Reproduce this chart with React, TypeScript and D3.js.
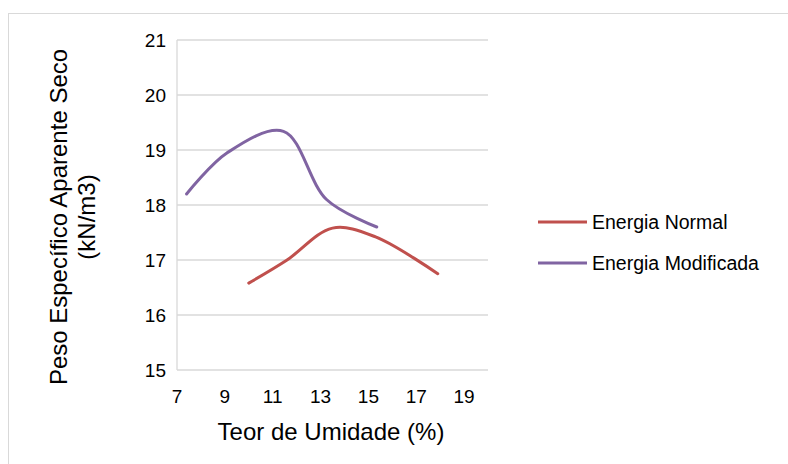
import React from "react";
import * as d3 from "d3";

const xTicks = [7, 9, 11, 13, 15, 17, 19];
const yTicks = [15, 16, 17, 18, 19, 20, 21];
const seriesNames = ["Energia Normal", "Energia Modificada"];
const normalX = [10.0, 11.6, 13.5, 15.3, 17.9];
const normalY = [16.58, 17.0, 17.58, 17.42, 16.75];
const modX = [7.4, 9.1, 11.45, 13.25, 15.35];
const modY = [18.2, 18.95, 19.34, 18.1, 17.6];
const colors = ["#C0504D", "#8064A2"];
const xTitle = "Teor de Umidade (%)";
const yTitle1 = "Peso Específico Aparente Seco";
const yTitle2 = "(kN/m3)";

export default function App() {
  const W = 788, H = 464;
  const x = d3.scaleLinear().domain([7, 20]).range([177, 488]);
  const y = d3.scaleLinear().domain([15, 21]).range([370, 40]);
  const line = d3
    .line<[number, number]>()
    .x((d) => x(d[0]))
    .y((d) => y(d[1]))
    .curve(d3.curveCatmullRom.alpha(0.5));
  const series = [
    normalX.map((v, i) => [v, normalY[i]] as [number, number]),
    modX.map((v, i) => [v, modY[i]] as [number, number]),
  ];
  const font = "Liberation Sans, Arial, sans-serif";
  return (
    <svg
      width={W}
      height={H}
      style={{ position: "absolute", left: 0, top: 0, background: "#fff" }}
      fontFamily={font}
    >
      <rect x={8.5} y={13.5} width={W + 10} height={H + 10} fill="#fff" stroke="#D9D9D9" />
      {yTicks.map((t) => (
        <line key={t} x1={x(7)} x2={x(20)} y1={y(t)} y2={y(t)} stroke="#D9D9D9" strokeWidth={1.3} />
      ))}
      <line x1={x(7)} x2={x(7)} y1={y(21)} y2={y(15)} stroke="#D9D9D9" strokeWidth={1.3} />
      {yTicks.map((t) => (
        <text key={t} x={166} y={y(t)} dy="0.35em" textAnchor="end" fontSize={19} fill="#000">
          {t}
        </text>
      ))}
      {xTicks.map((t) => (
        <text key={t} x={x(t)} y={403} textAnchor="middle" fontSize={19} fill="#000">
          {t}
        </text>
      ))}
      {series.map((s, i) => (
        <path key={i} d={line(s) || ""} fill="none" stroke={colors[i]} strokeWidth={3} strokeLinecap="round" />
      ))}
      <text x={331} y={440} textAnchor="middle" fontSize={24} fill="#000">
        {xTitle}
      </text>
      <g transform="translate(0,217) rotate(-90)">
        <text x={0} y={67} textAnchor="middle" fontSize={24} fill="#000">
          {yTitle1}
        </text>
        <text x={0} y={95} textAnchor="middle" fontSize={24} fill="#000">
          {yTitle2}
        </text>
      </g>
      {seriesNames.map((n, i) => (
        <g key={n} transform={`translate(0,${222 + i * 41})`}>
          <line x1={538} x2={587} y1={0} y2={0} stroke={colors[i]} strokeWidth={3} />
          <text x={592} y={0} dy="0.35em" fontSize={19.5} fill="#000">
            {n}
          </text>
        </g>
      ))}
    </svg>
  );
}
